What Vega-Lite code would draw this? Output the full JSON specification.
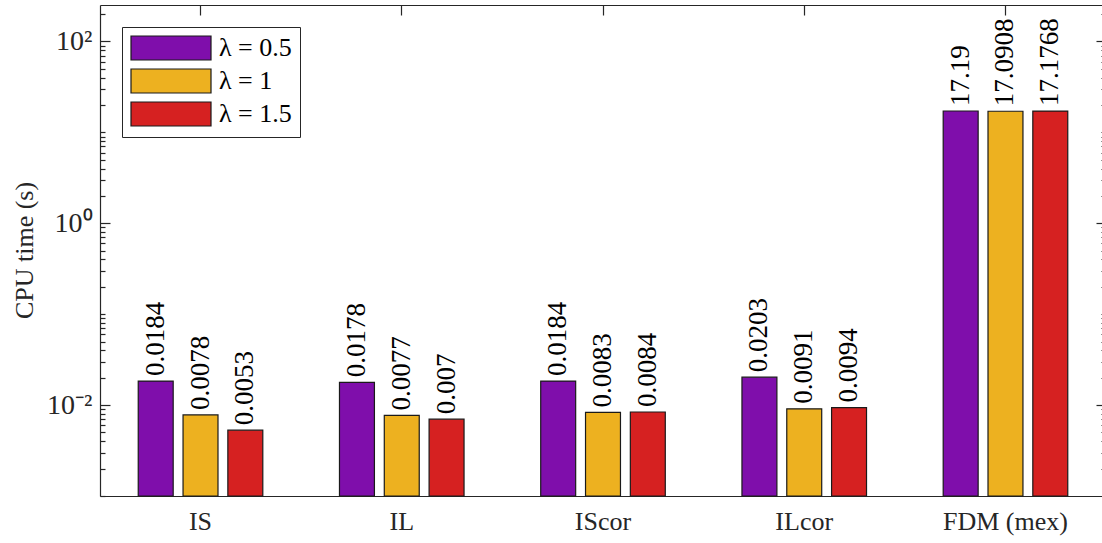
{
  "$schema": "https://vega.github.io/schema/vega-lite/v6.json",
  "autosize": {"type": "none"},
  "padding": {"left": 100, "top": 5, "right": 0, "bottom": 47},
  "width": 1002,
  "height": 491,
  "background": "white",
  "config": {"view": {"stroke": null}, "font": "Liberation Serif"},
  "data": {
    "values": [
      {"method": "IS", "lambda": "0.5", "time": 0.0184},
      {"method": "IS", "lambda": "1", "time": 0.0078},
      {"method": "IS", "lambda": "1.5", "time": 0.0053},
      {"method": "IL", "lambda": "0.5", "time": 0.0178},
      {"method": "IL", "lambda": "1", "time": 0.0077},
      {"method": "IL", "lambda": "1.5", "time": 0.007},
      {"method": "IScor", "lambda": "0.5", "time": 0.0184},
      {"method": "IScor", "lambda": "1", "time": 0.0083},
      {"method": "IScor", "lambda": "1.5", "time": 0.0084},
      {"method": "ILcor", "lambda": "0.5", "time": 0.0203},
      {"method": "ILcor", "lambda": "1", "time": 0.0091},
      {"method": "ILcor", "lambda": "1.5", "time": 0.0094},
      {"method": "FDM (mex)", "lambda": "0.5", "time": 17.19},
      {"method": "FDM (mex)", "lambda": "1", "time": 17.0908},
      {"method": "FDM (mex)", "lambda": "1.5", "time": 17.1768}
    ]
  },
  "layer": [
    {
      "mark": {"type": "bar", "stroke": "#1a1a1a", "strokeWidth": 1.2},
      "encoding": {
        "x": {
          "field": "method", "type": "nominal",
          "sort": ["IS", "IL", "IScor", "ILcor", "FDM (mex)"],
          "scale": {"range": [0, 1006], "paddingInner": 0.381, "paddingOuter": 0.19},
          "axis": {
            "orient": "bottom", "title": null, "tickSize": -10, "labelPadding": 22, "labelAngle": 0,
            "labelFont": "Liberation Serif", "labelFontSize": 26, "labelColor": "#262626",
            "tickColor": "#262626", "domainColor": "#262626", "domainWidth": 1.2, "tickWidth": 1.2, "grid": false
          }
        },
        "xOffset": {
          "field": "lambda", "type": "nominal", "sort": ["0.5", "1", "1.5"],
          "scale": {"paddingInner": 0.22, "paddingOuter": 0}
        },
        "y": {
          "field": "time", "type": "quantitative", "stack": null,
          "scale": {"type": "log", "domain": [0.001, 252], "nice": false},
          "axis": {
            "orient": "left",
            "values": [0.001, 0.002, 0.003, 0.004, 0.005, 0.006, 0.007, 0.008, 0.009, 0.01, 0.02, 0.03, 0.04, 0.05, 0.06, 0.07, 0.08, 0.09, 0.1, 0.2, 0.3, 0.4, 0.5, 0.6, 0.7, 0.8, 0.9, 1, 2, 3, 4, 5, 6, 7, 8, 9, 10, 20, 30, 40, 50, 60, 70, 80, 90, 100, 200],
            "labelExpr": "datum.value == 0.01 ? '10⁻²' : datum.value == 1 ? '10⁰' : datum.value == 100 ? '10²' : ''",
            "tickSize": {"condition": {"test": "datum.value == 0.01 || datum.value == 1 || datum.value == 100", "value": -10}, "value": -5},
            "labelPadding": 18, "labelOverlap": false,
            "labelFont": "Liberation Serif", "labelFontSize": 28, "labelColor": "#262626",
            "tickColor": "#262626", "domainColor": "#262626", "domainWidth": 1.2, "tickWidth": 1.2, "grid": false,
            "title": "CPU time (s)", "titleFont": "Liberation Serif", "titleFontSize": 26, "titleFontWeight": "normal",
            "titleColor": "#262626", "titleX": -76, "titleY": 245, "titleBaseline": "middle", "titleAngle": -90
          }
        },
        "color": {
          "field": "lambda", "type": "nominal", "sort": ["0.5", "1", "1.5"],
          "scale": {"range": ["#7F0EAB", "#EDB120", "#D62121"]},
          "legend": {
            "title": null, "orient": "none", "legendX": 22, "legendY": 22,
            "symbolType": "M-1,-1H5.667V1H-1Z", "symbolSize": 576,
            "symbolStrokeColor": "#1a1a1a", "symbolStrokeWidth": 1.2, "symbolOpacity": 1,
            "labelOffset": 63, "labelFont": "Liberation Serif", "labelFontSize": 26, "labelColor": "#000000",
            "labelExpr": "'λ = ' + datum.label", "labelLimit": 300,
            "rowPadding": 3, "padding": 8, "strokeColor": "#262626", "fillColor": "white"
          }
        }
      }
    },
    {
      "mark": {"type": "text", "angle": -90, "align": "left", "baseline": "middle", "dx": 5, "font": "Liberation Serif", "fontSize": 27, "color": "#000000"},
      "encoding": {
        "x": {
          "field": "method", "type": "nominal",
          "sort": ["IS", "IL", "IScor", "ILcor", "FDM (mex)"],
          "axis": {"orient": "top", "title": null, "labels": false, "tickSize": -10, "tickColor": "#262626", "domainColor": "#262626", "domainWidth": 1.2, "tickWidth": 1.2, "grid": false}
        },
        "xOffset": {"field": "lambda", "type": "nominal", "sort": ["0.5", "1", "1.5"]},
        "y": {
          "field": "time", "type": "quantitative", "stack": null,
          "axis": {
            "orient": "right", "offset": 4, "title": null, "labels": false, "domain": false, "grid": false,
            "values": [0.001, 0.002, 0.003, 0.004, 0.005, 0.006, 0.007, 0.008, 0.009, 0.01, 0.02, 0.03, 0.04, 0.05, 0.06, 0.07, 0.08, 0.09, 0.1, 0.2, 0.3, 0.4, 0.5, 0.6, 0.7, 0.8, 0.9, 1, 2, 3, 4, 5, 6, 7, 8, 9, 10, 20, 30, 40, 50, 60, 70, 80, 90, 100, 200],
            "tickSize": {"condition": {"test": "datum.value == 0.01 || datum.value == 1 || datum.value == 100", "value": -10}, "value": -5},
            "tickColor": "#262626", "tickWidth": 1.2
          }
        },
        "text": {"field": "time", "type": "nominal"}
      }
    }
  ],
  "resolve": {"axis": {"x": "independent", "y": "independent"}}
}
